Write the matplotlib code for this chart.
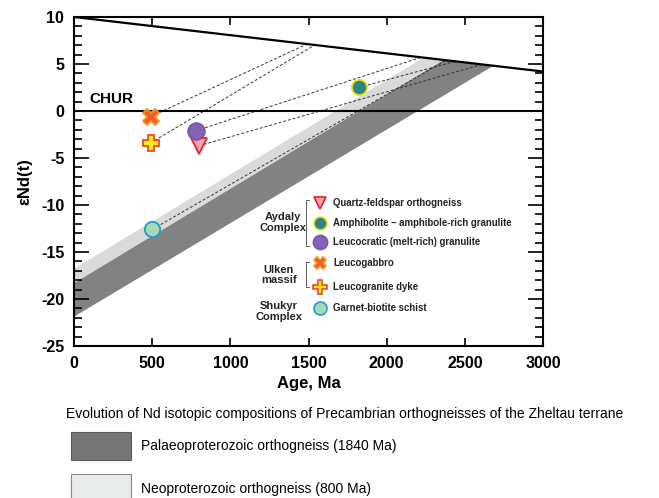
import numpy as np
import matplotlib
matplotlib.use("Agg")
import matplotlib.pyplot as plt
from matplotlib.patches import Rectangle
from matplotlib.ticker import MultipleLocator

plt.rcParams['font.family'] = ['Liberation Sans', 'DejaVu Sans']
plt.rcParams['axes.unicode_minus'] = False

# depleted mantle evolution line (age Ma, eNd)
dm_age = [0, 3000]
dm_eps = [10.0, 4.2]

# Nd evolution bands: eNd at 0 Ma and at 2000 Ma for the upper/lower edge
neo_top = [-16.7, 3.38]
neo_bot = [-19.5, 0.6]
pal_top = [-18.24, 1.84]
pal_bot = [-21.8, -1.9]

# samples
names = ["Quartz-feldspar orthogneiss",
         "Amphibolite \u2013 amphibole-rich granulite",
         "Leucocratic (melt-rich) granulite",
         "Leucogabbro",
         "Leucogranite dyke",
         "Garnet-biotite schist"]
age = [800, 1820, 780, 490, 490, 500]
eps = [-3.7, 2.5, -2.1, -0.6, -3.4, -12.6]
t_dm = [2610, 2440, 2220, 1490, 1540, 2380]

markers = ['v', 'o', 'o', 'X', 'P', 'o']
faces = ['#f5a3ab', '#2f8486', '#8563b4', '#f15a29', '#ffe81a', '#a6d9b4']
edges = ['#e3232c', '#e6e619', '#7a55a8', '#f7941e', '#ef4b28', '#1f9bd0']
msize = [11, 11, 12, 11, 12, 11]

fig = plt.figure(figsize=(6.59, 4.98), dpi=100)
ax = fig.add_axes([0.1123, 0.3052, 0.7117, 0.6607])

T = np.linspace(0, 3000, 3001)
dm = np.interp(T, dm_age, dm_eps)


def edge(e):
    return e[0] + (e[1] - e[0]) * T / 2000.0


for top, bot, col in [(neo_top, neo_bot, '#d9dbda'), (pal_top, pal_bot, '#828282')]:
    up = np.minimum(edge(top), dm)
    lo = edge(bot)
    ax.fill_between(T, lo, up, where=lo <= dm, color=col, lw=0, zorder=1)

ax.plot(dm_age, dm_eps, color='black', lw=1.6, zorder=3)
ax.axhline(0, color='black', lw=1.5, zorder=3)
ax.text(100, 0.55, "CHUR", fontsize=11, fontweight='bold', va='bottom', ha='left')

# model age tie lines
for a, e, t in zip(age, eps, t_dm):
    ax.plot([a, t], [e, np.interp(t, dm_age, dm_eps)], color='#333333', lw=0.7,
            ls=(0, (3, 2)), zorder=2)

for a, e, m, fc, ec, s in zip(age, eps, markers, faces, edges, msize):
    ax.plot(a, e, marker=m, ms=s, mfc=fc, mec=ec, mew=1.3, ls='none', zorder=5)

ax.set_xlim(0, 3000)
ax.set_ylim(-25, 10)
ax.xaxis.set_major_locator(MultipleLocator(500))
ax.yaxis.set_major_locator(MultipleLocator(5))
ax.yaxis.set_minor_locator(MultipleLocator(1))
ax.tick_params(axis='both', which='both', direction='in', top=True, right=True,
               width=1.2, labelsize=11.5)
ax.tick_params(axis='x', which='major', length=6, pad=7)
ax.tick_params(axis='y', which='major', length=11, pad=7)
ax.tick_params(axis='y', which='minor', length=5.5)
for lab in ax.get_xticklabels() + ax.get_yticklabels():
    lab.set_fontweight('bold')
for sp in ax.spines.values():
    sp.set_linewidth(1.5)
ax.set_xlabel("Age, Ma", fontsize=12, fontweight='bold', labelpad=4)
ax.set_ylabel("\u03b5Nd(t)", fontsize=12, fontweight='bold', labelpad=6)

# sample key inside the plot
row_y = [0.4347, 0.3739, 0.3161, 0.2523, 0.1793, 0.1155]
for y, m, fc, ec, s, n in zip(row_y, markers, faces, edges, msize, names):
    ax.plot(0.5245, y, marker=m, ms=s * 0.85, mfc=fc, mec=ec, mew=1.2,
            transform=ax.transAxes, clip_on=False, zorder=6)
    ax.text(0.552, y, n, transform=ax.transAxes, fontsize=6.9,
            fontweight='bold', va='center', ha='left', color='#222222')

groups = [("Aydaly\nComplex", 0.4456, 0.376),
          ("Ulken\nmassif", 0.4371, 0.2158),
          ("Shukyr\nComplex", 0.4371, 0.106)]
for g, x, y in groups:
    ax.text(x, y, g, transform=ax.transAxes, fontsize=8, fontweight='bold',
            ha='center', va='center', linespacing=1.1, color='#222222')

for y0, y1 in [(0.4438, 0.304), (0.2553, 0.1793)]:
    ax.plot([0.5010, 0.4947, 0.4947, 0.5010], [y0, y0, y1, y1],
            color='#444444', lw=0.6, transform=ax.transAxes, clip_on=False)

# caption and band key under the plot
fig.text(0.5228, 0.1687, "Evolution of Nd isotopic compositions of Precambrian "
         "orthogneisses of the Zheltau terrane", fontsize=10, ha='center',
         va='center')
fig.patches.append(Rectangle((0.1077, 0.0763), 0.091, 0.0562, transform=fig.transFigure,
                             facecolor='#767676', edgecolor='#5a5a5a', lw=0.8))
fig.patches.append(Rectangle((0.1077, -0.008), 0.091, 0.0562, transform=fig.transFigure,
                             facecolor='#e8ebea', edgecolor='#888888', lw=0.8))
fig.text(0.214, 0.1044, "Palaeoproterozoic orthogneiss (1840 Ma)", fontsize=10,
         va='center', ha='left')
fig.text(0.214, 0.018, "Neoproterozoic orthogneiss (800 Ma)", fontsize=10,
         va='center', ha='left')

fig.savefig("out.png", dpi=100)
